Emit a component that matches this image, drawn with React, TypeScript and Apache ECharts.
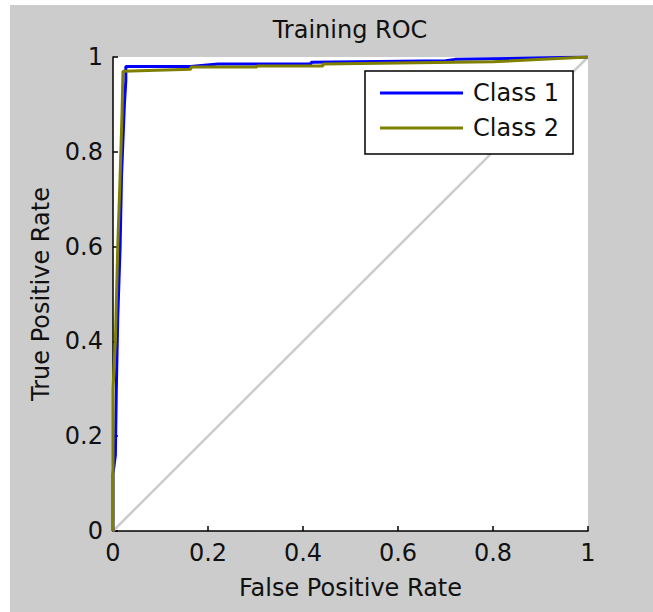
import React, { useEffect, useRef } from "react";
import * as echarts from "echarts";

const titleText = "Training ROC";
const xName = "False Positive Rate";
const yName = "True Positive Rate";
const seriesNames = ["Class 1", "Class 2"];

// Class 1 ROC points [FPR, TPR]
const class1Fpr = [0, 0, 0.005, 0.007, 0.01, 0.015, 0.018, 0.024, 0.027, 0.027, 0.163, 0.221, 0.417, 0.417, 0.7, 0.72, 1];
const class1Tpr = [0, 0.12, 0.16, 0.3, 0.45, 0.6, 0.75, 0.9, 0.95, 0.98, 0.98, 0.985, 0.985, 0.989, 0.992, 0.995, 1];

// Class 2 ROC points [FPR, TPR]
const class2Fpr = [0, 0, 0.005, 0.01, 0.015, 0.019, 0.021, 0.164, 0.164, 0.303, 0.303, 0.442, 0.442, 0.8, 1];
const class2Tpr = [0, 0.3, 0.4, 0.6, 0.75, 0.88, 0.97, 0.974, 0.979, 0.979, 0.981, 0.981, 0.985, 0.99, 1];

// chance diagonal
const diagFpr = [0, 1];
const diagTpr = [0, 1];

const FONT = "'DejaVu Sans', Verdana, sans-serif";

function zip(a: number[], b: number[]) {
  return a.map((v, i) => [v, b[i]]);
}

export default function App() {
  const ref = useRef<HTMLDivElement>(null);
  useEffect(() => {
    if (!ref.current) return;
    const chart = echarts.init(ref.current, undefined, { renderer: "svg" });
    const axisCommon = {
      type: "value" as const,
      min: 0,
      max: 1,
      interval: 0.2,
      nameLocation: "middle" as const,
      nameTextStyle: { color: "#111", fontSize: 24, fontFamily: FONT },
      axisLine: { show: true, lineStyle: { color: "#000", width: 1.5 } },
      axisTick: { show: true, inside: true, length: 5, lineStyle: { color: "#000", width: 1.5 } },
      axisLabel: { color: "#111", fontSize: 24, fontFamily: FONT, margin: 10 },
      splitLine: { show: false },
    };
    chart.setOption({
      animation: false,
      backgroundColor: "#cccccc",
      title: {
        text: titleText,
        left: 340,
        textAlign: "center",
        top: 13,
        padding: 0,
        textStyle: { color: "#111", fontSize: 24, fontWeight: "normal", fontFamily: FONT },
      },
      grid: {
        left: 103,
        top: 52,
        width: 475,
        height: 474,
        show: true,
        backgroundColor: "#ffffff",
        borderWidth: 0,
      },
      legend: {
        data: seriesNames,
        orient: "vertical",
        left: 355,
        top: 66,
        icon: "rect",
        itemWidth: 83,
        itemHeight: 3,
        itemGap: 9,
        padding: [9, 14, 13, 15],
        backgroundColor: "#ffffff",
        borderColor: "#000",
        borderWidth: 1.5,
        borderRadius: 0,
        textStyle: { color: "#111", fontSize: 24, lineHeight: 26, fontFamily: FONT, padding: [0, 0, 0, 5] },
      },
      xAxis: { ...axisCommon, name: xName, nameGap: 45 },
      yAxis: { ...axisCommon, name: yName, nameGap: 60 },
      series: [
        {
          name: "diag",
          type: "line",
          data: zip(diagFpr, diagTpr),
          symbol: "none",
          lineStyle: { color: "#cccccc", width: 2.5 },
          silent: true,
        },
        {
          name: seriesNames[0],
          type: "line",
          data: zip(class1Fpr, class1Tpr),
          symbol: "none",
          color: "#0000ff",
          lineStyle: { color: "#0000ff", width: 3 },
        },
        {
          name: seriesNames[1],
          type: "line",
          data: zip(class2Fpr, class2Tpr),
          symbol: "none",
          color: "#808000",
          lineStyle: { color: "#808000", width: 3 },
        },
      ],
    });
    return () => chart.dispose();
  }, []);
  return (
    <div style={{ position: "fixed", left: 0, top: 0, width: 653, height: 612, background: "#ffffff" }}>
      <div ref={ref} style={{ position: "absolute", left: 10, top: 5, width: 643, height: 607 }} />
    </div>
  );
}
